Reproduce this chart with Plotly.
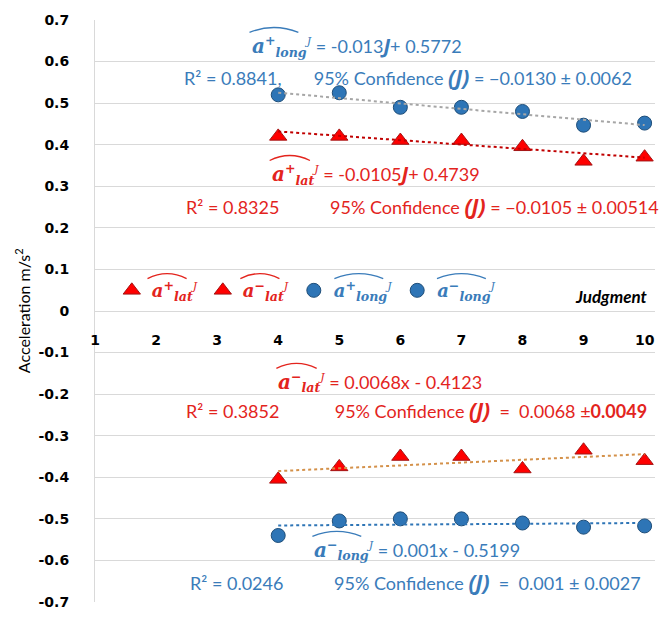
import plotly.graph_objects as go
import numpy as np

# ---------------- data ----------------
judgment = [4, 5, 6, 7, 8, 9, 10]
a_lat_pos = [0.42, 0.42, 0.41, 0.41, 0.395, 0.36, 0.37]
a_long_pos = [0.52, 0.525, 0.49, 0.49, 0.48, 0.447, 0.452]
a_lat_neg = [-0.405, -0.375, -0.35, -0.35, -0.38, -0.335, -0.36]
a_long_neg = [-0.54, -0.505, -0.50, -0.50, -0.51, -0.52, -0.517]

# linear trend fits: lat+, lat-, long+, long-
slopes = [-0.0105, 0.0068, -0.013, 0.001]
intercepts = [0.4739, -0.4123, 0.5772, -0.5199]

x_ticks = [1, 2, 3, 4, 5, 6, 7, 8, 9, 10]
y_ticks = [0.7, 0.6, 0.5, 0.4, 0.3, 0.2, 0.1, 0, -0.1, -0.2, -0.3, -0.4, -0.5, -0.6, -0.7]
y_tick_labels = ["0.7", "0.6", "0.5", "0.4", "0.3", "0.2", "0.1", "0",
                 "-0.1", "-0.2", "-0.3", "-0.4", "-0.5", "-0.6", "-0.7"]

RED = "#e3241d"
BLUE = "#3a7cba"
MRED = "#ff0000"
MBLUE = "#2e75b6"
TXT = "Lato"

fig = go.Figure()

def sym(sup, sub, color):
    return (f"<span style='color:{color}'><b><i>a</i></b>"
            f"<sup><b>{sup}</b></sup><sub><b><i>{sub}</i></b></sub>"
            f"<sup><span style='font-size:11px'><i>J</i></span></sup></span>")

tri = dict(symbol="triangle-up", size=15, color=MRED, line=dict(color="#a31515", width=1))
cir = dict(symbol="circle", size=14, color=MBLUE, line=dict(color="#1f4e79", width=1))

fig.add_trace(go.Scatter(x=judgment, y=a_lat_pos, mode="markers",
                         name=sym("+", "lat", RED), marker=tri))
fig.add_trace(go.Scatter(x=judgment, y=a_lat_neg, mode="markers",
                         name=sym("−", "lat", RED), marker=tri))
fig.add_trace(go.Scatter(x=judgment, y=a_long_pos, mode="markers",
                         name=sym("+", "long", BLUE), marker=cir))
fig.add_trace(go.Scatter(x=judgment, y=a_long_neg, mode="markers",
                         name=sym("−", "long", BLUE), marker=cir))

# trend lines
trend_colors = ["#c00000", "#d4914a", "#a6a6a6", "#2e75b6"]
xt = np.array([judgment[0], judgment[-1]], dtype=float)
for s, b, c in zip(slopes, intercepts, trend_colors):
    fig.add_trace(go.Scatter(x=xt, y=s * xt + b, mode="lines", showlegend=False,
                             hoverinfo="skip",
                             line=dict(color=c, width=2, dash="dot")))

anns = []
shapes = []

def ann(x, y, text, color, size=18, xanchor="left", xref="x"):
    anns.append(dict(x=x, y=y, xref=xref, yref="y", text=text, showarrow=False,
                     xanchor=xanchor, yanchor="middle",
                     font=dict(family=TXT, size=size, color=color)))

def hat(x0, x1, y, color, h=0.012):
    xm = (x0 + x1) / 2
    shapes.append(dict(type="path", xref="x", yref="y",
                       path=f"M {x0},{y} Q {xm},{y + 2 * h} {x1},{y}",
                       line=dict(color=color, width=1.3)))

def eqsym(sup, sub):
    return ("<span style='font-family:DejaVu Serif'>"
            "<span style='font-size:20px'><b><i>a</i></b></span>"
            f"<sup><b>{sup}</b></sup><sub><b><i>{sub}</i></b></sub>"
            "<sup><span style='font-size:11px'><i>J</i></span></sup></span>")

Jb = "<span style='font-family:Open Sans;font-size:20px'><b><i>J</i></b></span>"
JP = "<span style='font-family:Open Sans;font-size:21px'><b><i>(J)</i></b></span>"

# a_long+
ann(3.53, 0.638, eqsym("+", "long") + f" = -0.013{Jb}+ 0.5772", BLUE)
ann(0.962, 0.564, f"R² = 0.8841,       95% Confidence {JP} = −0.0130 ± 0.0062", BLUE,
    xanchor="right", xref="paper")
# a_lat+
ann(3.86, 0.330, eqsym("+", "lat") + f" = -0.0105{Jb}+ 0.4739", RED)
ann(1.010, 0.253, f"R² = 0.8325           95% Confidence {JP} = −0.0105 ± 0.00514", RED,
    xanchor="right", xref="paper")
# a_lat-
ann(3.97, -0.170, eqsym("−", "lat") + " = 0.0068x - 0.4123", RED)
ann(0.990, -0.238, f"R² = 0.3852            95% Confidence {JP}  =  0.0068 ±<b>0.0049</b>", RED,
    xanchor="right", xref="paper")
# a_long-
ann(4.56, -0.574, eqsym("−", "long") + " = 0.001x - 0.5199", BLUE)
ann(0.978, -0.653, f"R² = 0.0246           95% Confidence {JP}  =  0.001 ± 0.0027", BLUE,
    xanchor="right", xref="paper")

# hats over the equation symbols
hat(3.53, 4.33, 0.670, BLUE)
hat(3.86, 4.52, 0.362, RED)
hat(3.97, 4.63, -0.138, RED)
hat(4.56, 5.36, -0.542, BLUE)
# hats over the legend symbols
hat(1.86, 2.50, 0.078, RED)
hat(3.38, 4.02, 0.078, RED)
hat(4.92, 5.72, 0.078, BLUE)
hat(6.60, 7.40, 0.078, BLUE)

# "Judgment" label
anns.append(dict(x=10.07, y=0.035, xref="x", yref="y", text="<b><i>Judgment</i></b>",
                 showarrow=False, xanchor="right", yanchor="middle",
                 font=dict(family=TXT, size=17, color="#000000")))
# y-axis title
anns.append(dict(x=-0.13, y=0.5, xref="paper", yref="paper",
                 text="Acceleration m/s<sup>2</sup>", textangle=-90, showarrow=False,
                 xanchor="center", yanchor="middle",
                 font=dict(family=TXT, size=16, color="#000000")))

fig.update_layout(
    width=668, height=622,
    margin=dict(l=95, r=13, t=12, b=13),
    paper_bgcolor="white", plot_bgcolor="white",
    annotations=anns, shapes=shapes,
    showlegend=True,
    legend=dict(orientation="h", x=0.03, y=0.535, xanchor="left", yanchor="middle",
                bgcolor="rgba(0,0,0,0)", font=dict(family="DejaVu Serif", size=18),
                itemwidth=30),
    xaxis=dict(range=[1, 10.17], tickvals=x_ticks, showgrid=False, zeroline=False,
               showline=True, linecolor="#d9d9d9", linewidth=1,
               anchor="free", position=0.5, ticks="",
               tickfont=dict(family="DejaVu Sans", size=14, color="#000000",
                             weight="bold"),
               ticklabelstandoff=16, ticklabeloverflow="allow"),
    yaxis=dict(range=[-0.7, 0.7], tickvals=y_ticks, ticktext=y_tick_labels,
               showgrid=True, gridcolor="#d9d9d9", zeroline=False,
               showline=True, linecolor="#d9d9d9", ticks="",
               tickfont=dict(family="DejaVu Sans", size=14, color="#000000",
                             weight="bold"),
               ticklabelstandoff=22, ticklabeloverflow="allow"),
)

fig.write_html("out.html")
